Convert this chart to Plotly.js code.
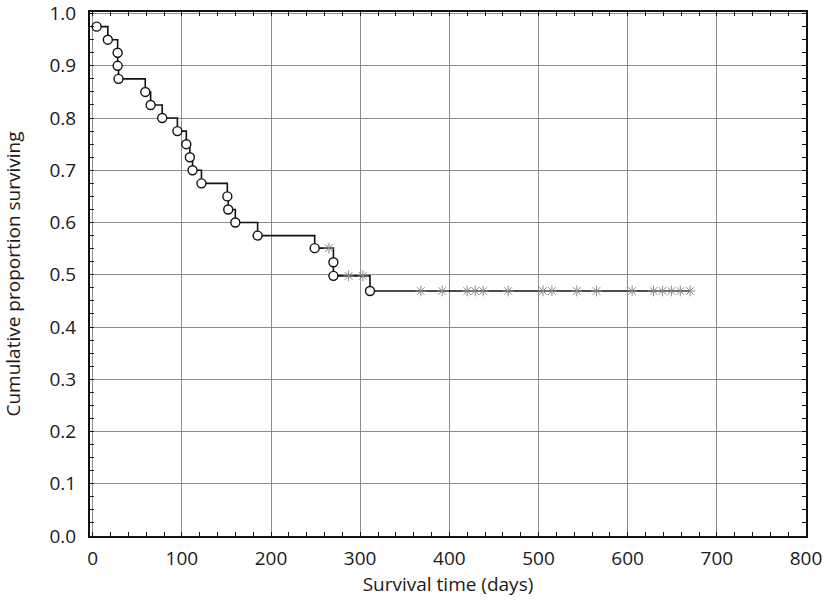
<!DOCTYPE html>
<html>
<head>
<meta charset="utf-8">
<script src="https://cdn.plot.ly/plotly-3.0.1.min.js"></script>
<style>
  html, body { margin: 0; padding: 0; background: #fff; }
  #chart { width: 828px; height: 603px; }
</style>
</head>
<body>
<div id="chart"></div>
<script>
// events (circles)
const eventDays = [4.5, 17, 28, 28, 29, 59, 65, 78, 95, 105, 109, 112, 122, 151, 152, 160, 185, 249, 270, 270, 311];
const eventSurv = [0.975, 0.95, 0.925, 0.9, 0.875, 0.85, 0.825, 0.8, 0.775, 0.75, 0.725, 0.7, 0.675, 0.65, 0.625, 0.6, 0.575, 0.551, 0.524, 0.498, 0.469];

// censored cases (grey asterisks)
const censorDays = [265, 287, 303, 368, 392, 420, 429, 438, 466, 505, 515, 543, 565, 605, 629, 639, 649, 659, 670];
const censorSurv = [0.551, 0.498, 0.498, 0.469, 0.469, 0.469, 0.469, 0.469, 0.469, 0.469, 0.469, 0.469, 0.469, 0.469, 0.469, 0.469, 0.469, 0.469, 0.469];

const xTicks = [0, 100, 200, 300, 400, 500, 600, 700, 800];
const yTicks = [0, 0.1, 0.2, 0.3, 0.4, 0.5, 0.6, 0.7, 0.8, 0.9, 1.0];

// step line goes through events and censored points in time order
const allPts = eventDays.map((d, i) => ({ d: d, s: eventSurv[i] }))
  .concat(censorDays.map((d, i) => ({ d: d, s: censorSurv[i] })))
  .sort((a, b) => a.d - b.d || b.s - a.s);

const FONT = "Open Sans, DejaVu Sans, sans-serif";

const traces = [
  {
    x: allPts.map((p) => p.d),
    y: allPts.map((p) => p.s),
    mode: "lines",
    type: "scatter",
    line: { shape: "hv", color: "#111", width: 1.6 },
    hoverinfo: "skip",
  },
  {
    x: censorDays,
    y: censorSurv,
    mode: "markers",
    type: "scatter",
    marker: { symbol: "asterisk-open", size: 9, color: "#8a8a8a", line: { color: "#8a8a8a", width: 1 } },
    cliponaxis: false,
  },
  {
    x: eventDays,
    y: eventSurv,
    mode: "markers",
    type: "scatter",
    marker: { symbol: "circle", size: 9, color: "#fff", line: { color: "#111", width: 1.4 } },
    cliponaxis: false,
  },
];

const layout = {
  width: 828,
  height: 603,
  margin: { l: 90, r: 22, t: 12, b: 67 },
  paper_bgcolor: "#fff",
  plot_bgcolor: "#fff",
  showlegend: false,
  font: { family: FONT, size: 19, color: "#1a1a1a" },
  xaxis: {
    range: [-3, 800],
    tickvals: xTicks,
    ticktext: xTicks.map(String),
    showgrid: true,
    gridcolor: "#8c8c8c",
    gridwidth: 1,
    zeroline: false,
    showline: true,
    linecolor: "#111",
    linewidth: 2,
    mirror: "allticks",
    ticks: "inside",
    ticklen: 4,
    tickcolor: "#111",
    minor: { dtick: 20, tick0: 0, ticks: "inside", ticklen: 4, tickcolor: "#111", showgrid: false },
    ticklabelstandoff: 4,
    title: { text: "Survival time (days)", font: { family: FONT, size: 19, color: "#1a1a1a" }, standoff: 8 },
  },
  yaxis: {
    range: [0, 1.003],
    tickvals: yTicks,
    ticktext: yTicks.map((v) => v.toFixed(1)),
    showgrid: true,
    gridcolor: "#8c8c8c",
    gridwidth: 1,
    zeroline: false,
    showline: true,
    linecolor: "#111",
    linewidth: 2,
    mirror: "allticks",
    ticks: "inside",
    ticklen: 4,
    tickcolor: "#111",
    minor: { dtick: 0.025, tick0: 0, ticks: "inside", ticklen: 4, tickcolor: "#111", showgrid: false },
    ticklabelstandoff: 8,
    title: { text: "Cumulative proportion surviving", font: { family: FONT, size: 19, color: "#1a1a1a" }, standoff: 24 },
  },
};

Plotly.newPlot("chart", traces, layout, { displayModeBar: false, staticPlot: true });
</script>
</body>
</html>
